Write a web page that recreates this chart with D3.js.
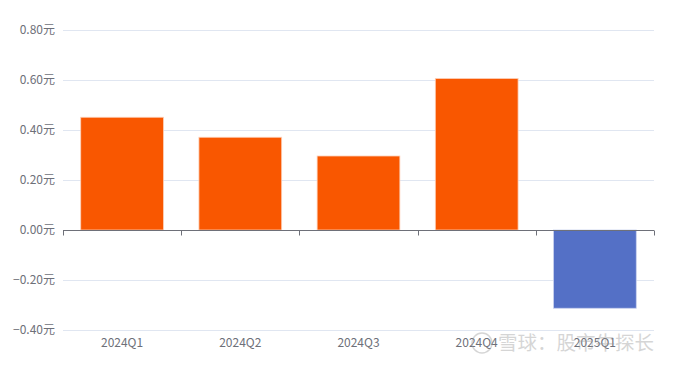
<!DOCTYPE html>
<html>
<head>
<meta charset="utf-8">
<script src="https://cdn.jsdelivr.net/npm/d3@7"></script>
<style>
	body { margin: 0; background: #fff; }
	svg { font-family: "Noto Sans CJK SC", "Noto Sans", sans-serif; }
</style>
</head>
<body>
<div id="chart"></div>
<script>
var quarters = ["2024Q1", "2024Q2", "2024Q3", "2024Q4", "2025Q1"];
var eps = [0.451, 0.371, 0.296, 0.606, -0.313];
var yTicks = [-0.4, -0.2, 0, 0.2, 0.4, 0.6, 0.8];

const margin = { top: 30, right: 20, bottom: 35, left: 63 };
const width = 674 - margin.left - margin.right;
const height = 365 - margin.top - margin.bottom;

const svg = d3.select("#chart").append("svg")
	.attr("width", 674)
	.attr("height", 365)
	.append("g")
	.attr("transform", "translate(" + margin.left + "," + margin.top + ")");

const xScale = d3.scaleBand()
	.domain(quarters)
	.range([0, width])
	.paddingInner(0.3)
	.paddingOuter(0.15);

const yScale = d3.scaleLinear()
	.domain([-0.4, 0.8])
	.range([height, 0]);

// grid
svg.selectAll(".grid")
	.data(yTicks)
	.enter()
	.append("line")
	.attr("x1", 0)
	.attr("x2", width)
	.attr("y1", d => Math.round(yScale(d)) + 0.5)
	.attr("y2", d => Math.round(yScale(d)) + 0.5)
	.attr("stroke", "#E0E6F1");

svg.selectAll(".ylab")
	.data(yTicks)
	.enter()
	.append("text")
	.attr("x", -8)
	.attr("y", d => yScale(d))
	.attr("dy", "0.35em")
	.attr("text-anchor", "end")
	.attr("font-size", 12)
	.attr("fill", "#6E7079")
	.text(d => d3.format(".2f")(d) + "元");

svg.selectAll(".bar")
	.data(eps)
	.enter()
	.append("rect")
	.attr("x", (d, i) => xScale(quarters[i]))
	.attr("width", xScale.bandwidth())
	.attr("y", d => yScale(Math.max(0, d)))
	.attr("height", d => Math.abs(yScale(d) - yScale(0)))
	.attr("fill", d => d >= 0 ? "#F95700" : "#5470C6")
	.attr("stroke", d => d >= 0 ? "#FDD0B8" : "#C9D2EE")
	.attr("stroke-width", 0.8);

// axis line at zero with boundary ticks
const zeroY = Math.round(yScale(0)) + 0.5;
svg.append("line")
	.attr("x1", 0)
	.attr("x2", width)
	.attr("y1", zeroY)
	.attr("y2", zeroY)
	.attr("stroke", "#6E7079");

const step = width / quarters.length;
svg.selectAll(".tick")
	.data(d3.range(quarters.length + 1))
	.enter()
	.append("line")
	.attr("x1", d => Math.round(d * step) + 0.5)
	.attr("x2", d => Math.round(d * step) + 0.5)
	.attr("y1", zeroY)
	.attr("y2", zeroY + 5)
	.attr("stroke", "#6E7079");

svg.selectAll(".xlab")
	.data(quarters)
	.enter()
	.append("text")
	.attr("x", d => xScale(d) + xScale.bandwidth() / 2)
	.attr("y", height + 13)
	.attr("dy", "0.35em")
	.attr("text-anchor", "middle")
	.attr("font-size", 12)
	.attr("fill", "#6E7079")
	.text(d => d);

// watermark (overlaps the last labels, as in the original)
const wm = d3.select("svg").append("g")
	.attr("opacity", 0.4);
wm.append("circle")
	.attr("cx", 482)
	.attr("cy", 343)
	.attr("r", 10)
	.attr("fill", "none")
	.attr("stroke", "#999")
	.attr("stroke-width", 1.5);
wm.append("text")
	.attr("x", 654)
	.attr("y", 343)
	.attr("dy", "0.35em")
	.attr("text-anchor", "end")
	.attr("font-size", 19.5)
	.attr("fill", "#999")
	.text("雪球：股市牛探长");
</script>
</body>
</html>
